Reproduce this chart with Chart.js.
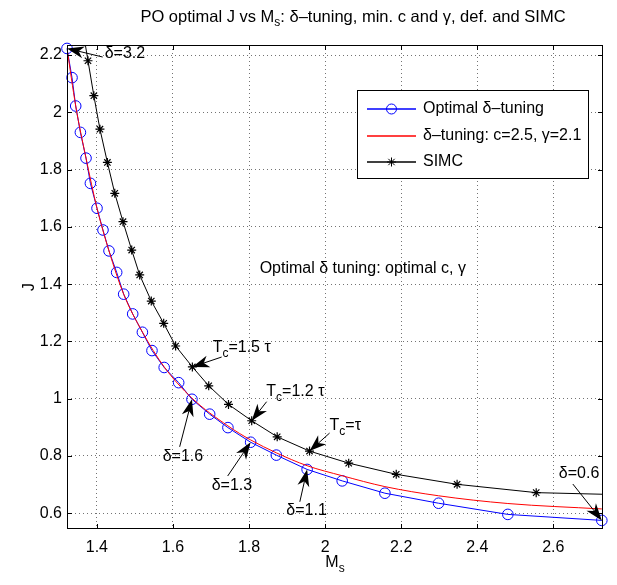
<!DOCTYPE html>
<html>
<head>
<meta charset="utf-8">
<script src="https://cdn.jsdelivr.net/npm/chart.js@4.4.1/dist/chart.umd.min.js"></script>
<style>
  html, body { margin: 0; padding: 0; background: #fff; }
  #wrap { width: 617px; height: 585px; }
</style>
</head>
<body>
<div id="wrap"><canvas id="grafico" width="617" height="585"></canvas></div>
<script>
// Optimal delta-tuning (blue, circles), delta = 3.2 ... 0.6
const msOtimo = [1.3214, 1.3346, 1.3443, 1.3566, 1.3714, 1.3829, 1.4003, 1.416, 1.4318, 1.452, 1.4704, 1.4941, 1.5196, 1.5448, 1.5769, 1.615, 1.6499, 1.6965, 1.7445, 1.8042, 1.8717, 1.9527, 2.0449, 2.1572, 2.2983, 2.4804, 2.7275]
const jOtimo = [2.223, 2.121, 2.022, 1.930, 1.840, 1.752, 1.665, 1.589, 1.516, 1.441, 1.365, 1.296, 1.232, 1.168, 1.109, 1.056, 0.998, 0.946, 0.899, 0.848, 0.803, 0.753, 0.713, 0.670, 0.635, 0.596, 0.575]

// delta-tuning with c=2.5, gamma=2.1 (red)
const msFixo = [1.3214, 1.3443, 1.3714, 1.4003, 1.4318, 1.4704, 1.5196, 1.5769, 1.6499, 1.7445, 1.8042, 1.8717, 1.9527, 2.0449, 2.1572, 2.2983, 2.4804, 2.7275]
const jFixo = [2.223, 2.022, 1.840, 1.665, 1.516, 1.365, 1.233, 1.111, 1.002, 0.905, 0.856, 0.811, 0.766, 0.731, 0.693, 0.661, 0.634, 0.615]

// SIMC (black, stars) - first and last run past the axes
const msSimc = [1.3615, 1.3766, 1.392, 1.408, 1.4276, 1.447, 1.4686, 1.4915, 1.5125, 1.543, 1.5756, 1.607, 1.651, 1.694, 1.746, 1.807, 1.874, 1.959, 2.062, 2.187, 2.347, 2.555, 2.80]
const jSimc = [2.30, 2.180, 2.058, 1.941, 1.825, 1.717, 1.618, 1.519, 1.432, 1.341, 1.263, 1.184, 1.111, 1.045, 0.980, 0.923, 0.867, 0.817, 0.775, 0.736, 0.701, 0.672, 0.664]

const ticksX = [1.4, 1.6, 1.8, 2.0, 2.2, 2.4, 2.6]
const ticksY = [0.6, 0.8, 1.0, 1.2, 1.4, 1.6, 1.8, 2.0, 2.2]
const labelsX = ['1.4', '1.6', '1.8', '2', '2.2', '2.4', '2.6']
const labelsY = ['0.6', '0.8', '1', '1.2', '1.4', '1.6', '1.8', '2', '2.2']

const legendas = ['Optimal δ–tuning', 'δ–tuning: c=2.5, γ=2.1', 'SIMC']
const cores = ['#0000ff', '#ff0000', '#000000']

// annotations (text + arrow), in data units
const notas = [
  { partes: [['δ=3.2']], pos: [1.4205, 2.206], cauda: [1.4152, 2.193], ponta: [msOtimo[0], jOtimo[0]] },
  { partes: [['T'], ['c', 1], ['=1.5 τ']], pos: [1.7043, 1.177], cauda: [1.728, 1.1455], ponta: [msSimc[12], jSimc[12]] },
  { partes: [['T'], ['c', 1], ['=1.2 τ']], pos: [1.8455, 1.024], cauda: [1.8462, 0.9895], ponta: [msSimc[15], jSimc[15]] },
  { partes: [['T'], ['c', 1], ['=τ']], pos: [2.0118, 0.905], cauda: [2.0118, 0.880], ponta: [msSimc[17], jSimc[17]] },
  { partes: [['δ=1.6']], pos: [1.573, 0.797], cauda: [1.6176, 0.832], ponta: [msOtimo[16], jOtimo[16]] },
  { partes: [['δ=1.3']], pos: [1.7017, 0.695], cauda: [1.7438, 0.730], ponta: [msOtimo[19], jOtimo[19]] },
  { partes: [['δ=1.1']], pos: [1.898, 0.611], cauda: [1.9335, 0.640], ponta: [msOtimo[21], jOtimo[21]] },
  { partes: [['δ=0.6']], pos: [2.6145, 0.739], cauda: [2.6513, 0.702], ponta: [msOtimo[26], jOtimo[26]] },
  { partes: [['Optimal δ tuning: optimal c, γ']], pos: [1.8279, 1.455] }
]

const FONTE = '"Liberation Sans", Arial, Helvetica, sans-serif'

function pontos(xs, ys) {
  return xs.map((x, i) => ({ x: x, y: ys[i] }))
}

// text with subscripts: partes = [[texto, sub?], ...]
function textoRico(ctx, partes, x, y, alinhar, tam) {
  tam = tam || 16
  ctx.save()
  ctx.textBaseline = 'middle'
  ctx.textAlign = 'left'
  const fSub = Math.round(tam * 0.75) + 'px ' + FONTE
  const fNorm = tam + 'px ' + FONTE
  let largura = 0
  for (const p of partes) {
    ctx.font = p[1] ? fSub : fNorm
    largura += ctx.measureText(p[0]).width
  }
  let cx = alinhar === 'center' ? x - largura / 2 : x
  for (const p of partes) {
    ctx.font = p[1] ? fSub : fNorm
    ctx.fillText(p[0], cx, p[1] ? y + 6 : y)
    cx += ctx.measureText(p[0]).width
  }
  ctx.restore()
}

function seta(ctx, x0, y0, x1, y1) {
  const ang = Math.atan2(y1 - y0, x1 - x0)
  const L = 17, W = 6, rec = 5
  const bx = x1 - L * Math.cos(ang), by = y1 - L * Math.sin(ang)
  ctx.save()
  ctx.strokeStyle = '#000'
  ctx.fillStyle = '#000'
  ctx.lineWidth = 1
  ctx.beginPath()
  ctx.moveTo(x0, y0)
  ctx.lineTo(bx + rec * Math.cos(ang), by + rec * Math.sin(ang))
  ctx.stroke()
  ctx.beginPath()
  ctx.moveTo(x1, y1)
  ctx.lineTo(bx - W * Math.sin(ang), by + W * Math.cos(ang))
  ctx.lineTo(bx + rec * Math.cos(ang), by + rec * Math.sin(ang))
  ctx.lineTo(bx + W * Math.sin(ang), by - W * Math.cos(ang))
  ctx.closePath()
  ctx.fill()
  ctx.restore()
}

function estrela(ctx, x, y, r) {
  ctx.beginPath()
  ctx.moveTo(x - r, y); ctx.lineTo(x + r, y)
  ctx.moveTo(x, y - r); ctx.lineTo(x, y + r)
  const d = r * Math.SQRT1_2
  ctx.moveTo(x - d, y - d); ctx.lineTo(x + d, y + d)
  ctx.moveTo(x - d, y + d); ctx.lineTo(x + d, y - d)
  ctx.stroke()
}

const decoracao = {
  id: 'decoracao',
  afterDraw(chart) {
    const ctx = chart.ctx
    const a = chart.chartArea
    const sx = chart.scales.x, sy = chart.scales.y

    // box + inner ticks
    ctx.save()
    ctx.strokeStyle = '#000'
    ctx.lineWidth = 1
    ctx.strokeRect(a.left + 0.5, a.top + 0.5, a.right - a.left - 1, a.bottom - a.top - 1)
    ctx.beginPath()
    for (const v of ticksX) {
      const px = Math.round(sx.getPixelForValue(v)) + 0.5
      ctx.moveTo(px, a.bottom); ctx.lineTo(px, a.bottom - 5)
      ctx.moveTo(px, a.top); ctx.lineTo(px, a.top + 5)
    }
    for (const v of ticksY) {
      const py = Math.round(sy.getPixelForValue(v)) + 0.5
      ctx.moveTo(a.left, py); ctx.lineTo(a.left + 5, py)
      ctx.moveTo(a.right, py); ctx.lineTo(a.right - 5, py)
    }
    ctx.stroke()
    ctx.restore()

    // annotations
    ctx.fillStyle = '#000'
    for (const n of notas) {
      textoRico(ctx, n.partes, sx.getPixelForValue(n.pos[0]), sy.getPixelForValue(n.pos[1]), 'left')
      if (n.cauda) {
        seta(ctx, sx.getPixelForValue(n.cauda[0]), sy.getPixelForValue(n.cauda[1]),
          sx.getPixelForValue(n.ponta[0]), sy.getPixelForValue(n.ponta[1]))
      }
    }

    // legend
    ctx.save()
    ctx.fillStyle = '#fff'
    ctx.fillRect(357, 90, 231, 88)
    ctx.strokeStyle = '#000'
    ctx.lineWidth = 1
    ctx.strokeRect(357.5, 90.5, 231, 88)
    const linhas = [108, 135, 161]
    const marcas = ['circle', null, 'star']
    for (let i = 0; i < 3; i++) {
      const y = linhas[i]
      ctx.strokeStyle = cores[i]
      ctx.lineWidth = 1.4
      ctx.beginPath()
      ctx.moveTo(367, y + 1); ctx.lineTo(416, y + 1)
      ctx.stroke()
      ctx.lineWidth = 1
      if (marcas[i] === 'circle') {
        ctx.beginPath()
        ctx.arc(391.5, y + 1, 5, 0, Math.PI * 2)
        ctx.stroke()
      } else if (marcas[i] === 'star') {
        estrela(ctx, 391.5, y + 1, 4.5)
      }
      ctx.fillStyle = '#000'
      textoRico(ctx, [[legendas[i]]], 423, y + 1, 'left')
    }
    ctx.restore()

    // title and axis labels
    ctx.fillStyle = '#000'
    textoRico(ctx, [['PO optimal J vs M'], ['s', 1], [': δ–tuning, min. c and γ, def. and SIMC']], 353, 17, 'center', 16.5)
    textoRico(ctx, [['M'], ['s', 1]], (a.left + a.right) / 2, 563, 'center')
    ctx.save()
    ctx.translate(30, (a.top + a.bottom) / 2)
    ctx.rotate(-Math.PI / 2)
    textoRico(ctx, [['J']], 0, 0, 'center')
    ctx.restore()
  }
}

const g = document.getElementById('grafico')

new Chart(g, {
  type: 'scatter',
  data: {
    datasets: [
      {
        label: legendas[0],
        data: pontos(msOtimo, jOtimo),
        showLine: true,
        borderColor: cores[0],
        backgroundColor: 'rgba(0,0,0,0)',
        borderWidth: 1,
        pointStyle: 'circle',
        pointRadius: 5.3,
        pointBorderWidth: 1,
        pointBorderColor: cores[0],
        tension: 0,
        clip: 7,
        order: 1
      },
      {
        label: legendas[1],
        data: pontos(msFixo, jFixo),
        showLine: true,
        borderColor: cores[1],
        backgroundColor: cores[1],
        borderWidth: 1,
        pointStyle: false,
        pointRadius: 0,
        cubicInterpolationMode: 'monotone',
        order: 0
      },
      {
        label: legendas[2],
        data: pontos(msSimc, jSimc),
        showLine: true,
        borderColor: cores[2],
        backgroundColor: cores[2],
        borderWidth: 1,
        pointStyle: 'star',
        pointRadius: 4.5,
        pointBorderWidth: 1.2,
        pointBorderColor: cores[2],
        tension: 0,
        order: 2
      }
    ]
  },
  options: {
    responsive: false,
    animation: false,
    devicePixelRatio: 1,
    layout: { padding: { left: 0, top: 45, right: 14, bottom: 0 } },
    plugins: {
      legend: { display: false },
      title: { display: false },
      tooltip: { enabled: false }
    },
    scales: {
      x: {
        type: 'linear',
        min: 1.3214,
        max: 2.7306,
        afterBuildTicks: (s) => { s.ticks = ticksX.map(v => ({ value: v })) },
        afterFit: (s) => { s.height = 56 },
        ticks: {
          color: '#000',
          font: { family: FONTE, size: 16 },
          padding: 9,
          maxRotation: 0,
          autoSkip: false,
          callback: (v) => labelsX[ticksX.findIndex(t => Math.abs(t - v) < 1e-6)]
        },
        grid: { color: 'rgba(0,0,0,0.55)', drawTicks: false, lineWidth: 1 },
        border: { display: false, dash: [1, 3] }
      },
      y: {
        type: 'linear',
        min: 0.545,
        max: 2.235,
        afterBuildTicks: (s) => { s.ticks = ticksY.map(v => ({ value: v })) },
        afterFit: (s) => { s.width = 67 },
        ticks: {
          color: '#000',
          font: { family: FONTE, size: 16 },
          padding: 5,
          autoSkip: false,
          callback: (v) => labelsY[ticksY.findIndex(t => Math.abs(t - v) < 1e-6)]
        },
        grid: { color: 'rgba(0,0,0,0.55)', drawTicks: false, lineWidth: 1 },
        border: { display: false, dash: [1, 3] }
      }
    }
  },
  plugins: [decoracao]
})
</script>
</body>
</html>
